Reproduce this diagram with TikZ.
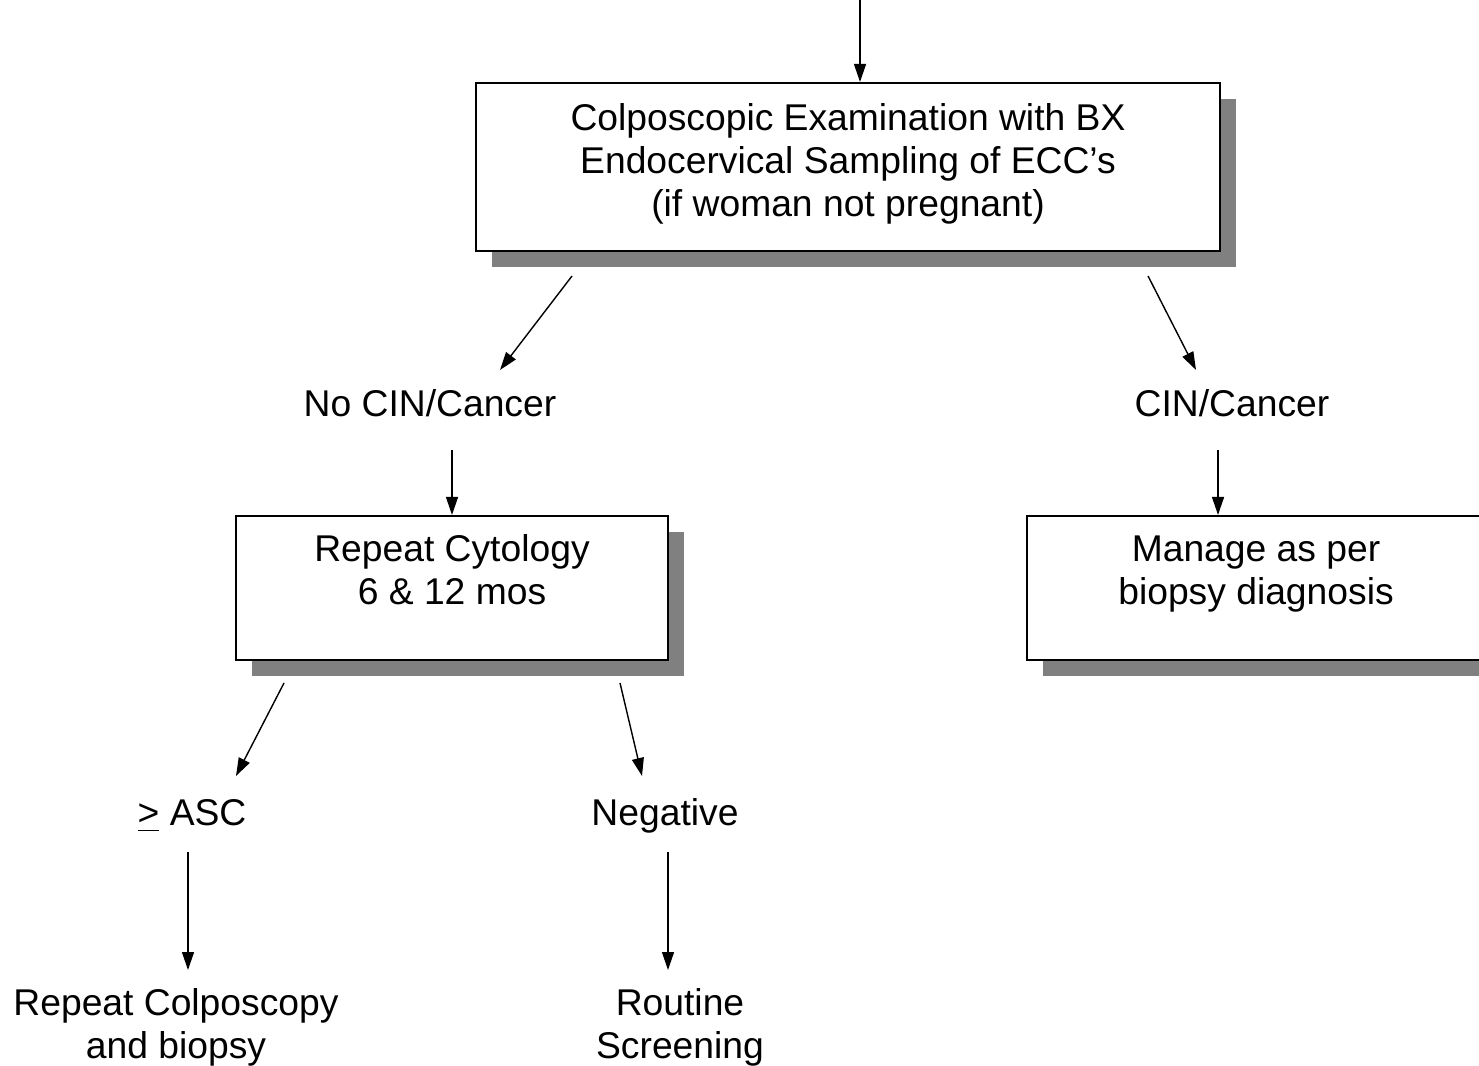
\documentclass[tikz,border=0pt]{standalone}
\usepackage{fontspec}
\setmainfont{Liberation Sans}
\usetikzlibrary{arrows.meta,shadows}
\begin{document}
\begin{tikzpicture}[every node/.style={font=\fontsize{10.6}{12.2}\selectfont, align=center, inner sep=0pt},
        box/.style={draw, line width=0.6pt, fill=white, drop shadow={shadow xshift=0.16cm, shadow yshift=-0.16cm, fill=black!50, opacity=1}},
        arr/.style={-{Triangle[length=0.18cm,width=0.12cm]}, line width=0.4pt}]
            \useasboundingbox (0,0) rectangle (14.79,10.65);
            \coordinate (start) at (8.60,10.65);
            \node[box, minimum width=7.44cm, minimum height=1.68cm] (colpo) at (8.48,8.98) {};
            \node (colpotxt) at (8.48,9.01) {Colposcopic Examination with BX\\Endocervical Sampling of ECC’s\\(if woman not pregnant)};
            \draw[arr] (start) -- (start |- colpo.north);
            \node (nocin) at (4.30,6.62) {No CIN/Cancer};
            \node (cin) at (12.32,6.62) {CIN/Cancer};
            \coordinate (dl1) at (5.72,7.89);
            \coordinate (dl2) at (5.00,6.95);
            \coordinate (dr1) at (11.48,7.89);
            \coordinate (dr2) at (11.96,6.95);
            \draw[arr] (dl1) -- (dl2);
            \draw[arr] (dr1) -- (dr2);
            \node[box, minimum width=4.32cm, minimum height=1.44cm] (cyto) at (4.52,4.77) {};
            \node (cytotxt) at (4.52,4.95) {Repeat Cytology\\6 \& 12 mos};
            \node[box, minimum width=4.58cm, minimum height=1.44cm] (manage) at (12.56,4.77) {};
            \node (managetxt) at (12.56,4.91) {Manage as per\\biopsy diagnosis};
            \draw[arr, shorten <=0.33cm] (cyto.north |- nocin.south) -- (cyto.north);
            \draw[arr, shorten <=0.33cm] ([xshift=-0.38cm]manage.north |- cin.south) -- ([xshift=-0.38cm]manage.north);
            \coordinate (el1) at (2.84,3.82);
            \coordinate (el2) at (2.36,2.89);
            \coordinate (er1) at (6.20,3.82);
            \coordinate (er2) at (6.42,2.89);
            \draw[arr] (el1) -- (el2);
            \draw[arr] (er1) -- (er2);
            \node (asc) at (1.92,2.49) {\underline{>} ASC};
            \node (neg) at (6.65,2.49) {Negative};
            \node (repeat) at (1.76,0.375) {Repeat Colposcopy\\and biopsy};
            \node (routine) at (6.80,0.375) {Routine\\Screening};
            \draw[arr] (1.88,2.13) -- (1.88,0.95);
            \draw[arr] (6.68,2.13) -- (6.68,0.95);
\end{tikzpicture}
\end{document}
